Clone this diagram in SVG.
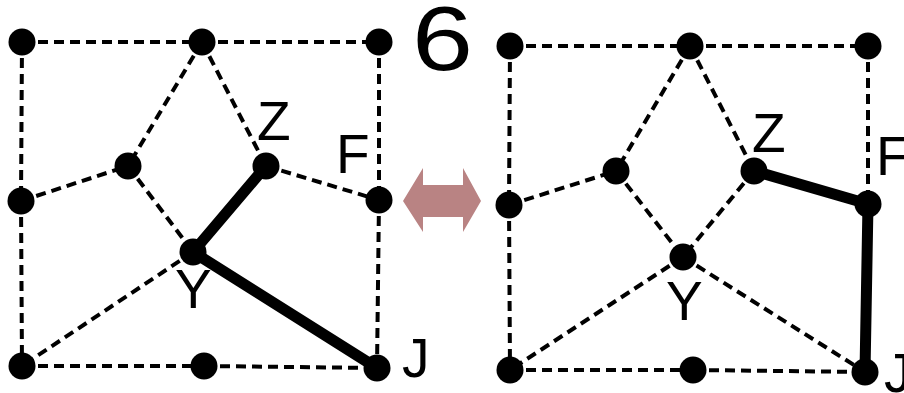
<svg xmlns="http://www.w3.org/2000/svg" width="904" height="393" viewBox="0 0 904 393">
<style>
.d{stroke:#000;stroke-width:4;stroke-dasharray:10 6;fill:none}
.t{stroke:#000;stroke-width:11;stroke-linecap:round;fill:none}
.n{fill:#000}
.l{font-family:"Liberation Sans",Arial,sans-serif;font-size:55px;fill:#000}
</style>
<rect width="904" height="393" fill="#fff"/>
<g id="connectors">
<g id="left-edges">
<line class="d" x1="22" y1="42" x2="202" y2="42"/>
<line class="d" x1="202" y1="42" x2="379" y2="42"/>
<line class="d" x1="22" y1="42" x2="21" y2="201"/>
<line class="d" x1="379" y1="42" x2="379" y2="200"/>
<line class="d" x1="21" y1="201" x2="22" y2="366"/>
<line class="d" x1="379" y1="200" x2="377" y2="368"/>
<line class="d" x1="22" y1="366" x2="204" y2="366"/>
<line class="d" x1="204" y1="366" x2="377" y2="368"/>
<line class="d" x1="202" y1="42" x2="128" y2="166"/>
<line class="d" x1="202" y1="42" x2="266" y2="166"/>
<line class="d" x1="21" y1="201" x2="128" y2="166"/>
<line class="d" x1="128" y1="166" x2="193" y2="252"/>
<line class="d" x1="266" y1="166" x2="379" y2="200"/>
<line class="d" x1="193" y1="252" x2="22" y2="366"/>
<line class="t" x1="193" y1="252" x2="266" y2="166"/>
<line class="t" x1="193" y1="252" x2="377" y2="368"/>
</g>
<g id="right-edges">
<line class="d" x1="510" y1="46" x2="690" y2="46"/>
<line class="d" x1="690" y1="46" x2="868" y2="46"/>
<line class="d" x1="510" y1="46" x2="509" y2="205"/>
<line class="d" x1="868" y1="46" x2="868" y2="204"/>
<line class="d" x1="509" y1="205" x2="510" y2="370"/>
<line class="d" x1="510" y1="370" x2="693" y2="370"/>
<line class="d" x1="693" y1="370" x2="865" y2="372"/>
<line class="d" x1="690" y1="46" x2="616" y2="171"/>
<line class="d" x1="690" y1="46" x2="754" y2="171"/>
<line class="d" x1="509" y1="205" x2="616" y2="171"/>
<line class="d" x1="616" y1="171" x2="683" y2="257"/>
<line class="d" x1="754" y1="171" x2="683" y2="257"/>
<line class="d" x1="683" y1="257" x2="510" y2="370"/>
<line class="d" x1="683" y1="257" x2="865" y2="372"/>
<line class="t" x1="754" y1="171" x2="868" y2="204"/>
<line class="t" x1="868" y1="204" x2="865" y2="372"/>
</g>
</g>
<g id="left-nodes">
<g id="L-TL"><circle class="n" cx="22" cy="42" r="13.5"/></g>
<g id="L-TM"><circle class="n" cx="202" cy="42" r="13.5"/></g>
<g id="L-TR"><circle class="n" cx="379" cy="42" r="13.5"/></g>
<g id="L-ML"><circle class="n" cx="21" cy="201" r="13.5"/></g>
<g id="L-IL"><circle class="n" cx="128" cy="166" r="13.5"/></g>
<g id="L-Z"><circle class="n" cx="266" cy="166" r="13.5"/><text class="l" x="257" y="140">Z</text></g>
<g id="L-F"><circle class="n" cx="379" cy="200" r="13.5"/><text class="l" x="336" y="173">F</text></g>
<g id="L-Y"><circle class="n" cx="193" cy="252" r="13.5"/><text class="l" x="175" y="308">Y</text></g>
<g id="L-BL"><circle class="n" cx="22" cy="366" r="13.5"/></g>
<g id="L-BM"><circle class="n" cx="204" cy="366" r="13.5"/></g>
<g id="L-J"><circle class="n" cx="377" cy="368" r="13.5"/><text class="l" x="402" y="377">J</text></g>
</g>
<g id="right-nodes">
<g id="R-TL"><circle class="n" cx="510" cy="46" r="13.5"/></g>
<g id="R-TM"><circle class="n" cx="690" cy="46" r="13.5"/></g>
<g id="R-TR"><circle class="n" cx="868" cy="46" r="13.5"/></g>
<g id="R-ML"><circle class="n" cx="509" cy="205" r="13.5"/></g>
<g id="R-IL"><circle class="n" cx="616" cy="171" r="13.5"/></g>
<g id="R-Z"><circle class="n" cx="754" cy="171" r="13.5"/><text class="l" x="752" y="152">Z</text></g>
<g id="R-F"><circle class="n" cx="868" cy="204" r="13.5"/><text class="l" x="876" y="175">F</text></g>
<g id="R-Y"><circle class="n" cx="683" cy="257" r="13.5"/><text class="l" x="666" y="320">Y</text></g>
<g id="R-BL"><circle class="n" cx="510" cy="370" r="13.5"/></g>
<g id="R-BM"><circle class="n" cx="693" cy="370" r="13.5"/></g>
<g id="R-J"><circle class="n" cx="865" cy="372" r="13.5"/><text class="l" x="884" y="392">J</text></g>
</g>
<g id="title"><text transform="translate(412,70) scale(1.22,1)" x="0" y="0" style="font-family:'Liberation Sans',Arial,sans-serif;font-size:90px;fill:#000">6</text></g>
<g id="swap-arrow"><polygon fill="#b98383" points="403,201 423,168 423,185 463,185 463,168 481,201 463,232 463,217 423,217 423,232"/></g>
</svg>
